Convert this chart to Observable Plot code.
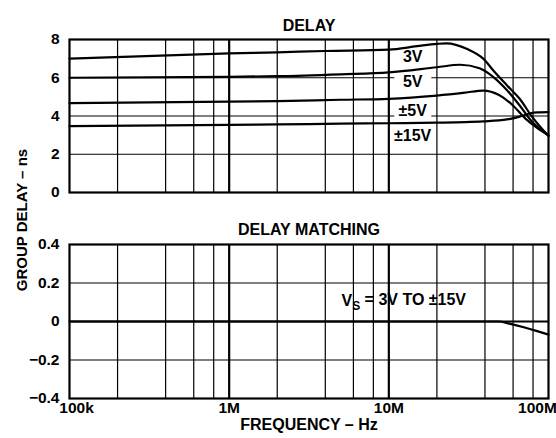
<!DOCTYPE html>
<html><head><meta charset="utf-8">
<script src="https://cdn.jsdelivr.net/npm/d3@7"></script>
<script src="https://cdn.jsdelivr.net/npm/@observablehq/plot@0.6"></script>
<style>
body{margin:0;background:#fff;}
#wrap{position:relative;width:556px;height:438px;font-family:"Liberation Sans",Arial,sans-serif;font-weight:bold;color:#000;}
#wrap > div.p{position:absolute;left:0;}
#ytitle{position:absolute;left:21px;top:220px;transform:translate(-50%,-50%) rotate(-90deg);white-space:nowrap;font-size:15px;font-weight:bold;}
</style>
</head><body>
<div id="wrap"><div class="p" id="p1" style="top:0"></div><div class="p" id="p2" style="top:200px"></div><div id="ytitle">GROUP DELAY – ns</div></div>
<script>
// ---- data ----
const f3V = [1e5, 1e6, 2e6, 4e6, 1e7, 1.5e7, 2e7, 2.3e7, 3.1e7, 3.9e7, 4.6e7, 5.5e7, 6.6e7, 7.9e7, 1e8];
const d3V = [7.0, 7.27, 7.33, 7.4, 7.47, 7.65, 7.77, 7.8, 7.5, 7.0, 6.3, 5.6, 4.9, 3.95, 2.95];
const f5V = [1e5, 1e6, 2e6, 5e6, 1e7, 2e7, 2.8e7, 3.7e7, 4.5e7, 5.5e7, 6.6e7, 7.9e7, 1e8];
const d5V = [6.0, 6.05, 6.08, 6.18, 6.28, 6.55, 6.68, 6.5, 6.05, 5.35, 4.55, 3.7, 3.0];
const fPM5 = [1e5, 1e6, 2e6, 5e6, 1e7, 2e7, 3e7, 3.9e7, 4.9e7, 5.9e7, 7.2e7, 8.4e7, 1e8];
const dPM5 = [4.67, 4.75, 4.78, 4.85, 4.9, 5.07, 5.22, 5.33, 5.1, 4.6, 3.85, 3.4, 2.98];
const fPM15 = [1e5, 1e6, 2e6, 5e6, 1e7, 2e7, 3e7, 3.9e7, 5.5e7, 6.6e7, 7.6e7, 8.5e7, 1e8];
const dPM15 = [3.47, 3.54, 3.56, 3.6, 3.62, 3.65, 3.68, 3.72, 3.82, 3.97, 4.13, 4.19, 4.2];
const fMatch = [1e5, 1e7, 4.9e7, 5.6e7, 7e7, 8.5e7, 1e8];
const dMatch = [0, 0, 0, -0.01, -0.03, -0.05, -0.068];

const seriesNames = ["3V", "5V", "±5V", "±15V"];
const labelFreq = [1.41e7, 1.41e7, 1.41e7, 1.41e7];
const labelDelay = [7.07, 5.77, 4.29, 2.98];

const xTickVals = [1e5, 1e6, 1e7, 1e8];
const xTickLabels = ["100k", "1M", "10M", "100M"];
const yTicksTop = [0, 2, 4, 6, 8];
const yTicksBot = [-0.4, -0.2, 0, 0.2, 0.4];
const minorGrid = [2e5,4e5,6e5,8e5, 2e6,4e6,6e6,8e6, 2e7,4e7,6e7,8e7];
const majorGrid = [1e6, 1e7];

const matchLabel = "VS = 3V TO ±15V";

// ---- build ----
const font = {fontFamily: '"Liberation Sans", Arial, sans-serif', fontSize: "16px", fontWeight: "bold", color: "#000", background: "#fff", overflow: "visible"};
const zip = (fs, ds) => fs.map((f, i) => ({f, d: ds[i]}));
const series = [zip(f3V, d3V), zip(f5V, d5V), zip(fPM5, dPM5), zip(fPM15, dPM15)];
const labels = seriesNames.map((n, i) => ({n, f: labelFreq[i], d: labelDelay[i]}));
const xScale = {type: "log", domain: [1e5, 1e8]};
const fmtBot = d => d === 0 ? "0" : d.toFixed(1).replace("-", "\u2212");
const TS = 15.5, LS = 16;

const top1 = Plot.plot({
  width: 556, height: 200,
  marginLeft: 69, marginRight: 8, marginTop: 39, marginBottom: 8,
  style: font,
  x: xScale,
  y: {domain: [0, 8]},
  marks: [
    Plot.ruleX(minorGrid, {stroke: "#000", strokeWidth: 1.2}),
    Plot.ruleX(majorGrid, {stroke: "#000", strokeWidth: 2.2}),
    Plot.ruleY([2, 4, 6], {stroke: "#000", strokeWidth: 1.2}),
    Plot.text(labels, {x: "f", y: "d", text: "n", fill: "#000", fontSize: LS, fontWeight: "bold"}),
    ...series.map(s => Plot.line(s, {x: "f", y: "d", stroke: "#000", strokeWidth: 2.2, curve: "monotone-x"})),
    Plot.frame({stroke: "#000", strokeWidth: 2.2}),
    Plot.axisX({ticks: [], label: null, tickSize: 0}),
    Plot.axisY({ticks: yTicksTop, tickSize: 0, tickPadding: 10, label: null, fontSize: TS, fontWeight: "bold"}),
    Plot.text(["DELAY"], {frameAnchor: "top", dy: -19.5, fontSize: LS, fontWeight: "bold"})
  ]
});
document.getElementById("p1").appendChild(top1);

const bot = Plot.plot({
  width: 556, height: 238,
  marginLeft: 69, marginRight: 8, marginTop: 44, marginBottom: 40,
  style: font,
  x: xScale,
  y: {domain: [-0.4, 0.4]},
  marks: [
    Plot.ruleX(minorGrid, {stroke: "#000", strokeWidth: 1.2}),
    Plot.ruleX(majorGrid, {stroke: "#000", strokeWidth: 2.2}),
    Plot.ruleY([-0.2, 0.2], {stroke: "#000", strokeWidth: 1.2}),
    Plot.ruleY([0], {stroke: "#000", strokeWidth: 2.2}),
    Plot.line(zip(fMatch, dMatch), {x: "f", y: "d", stroke: "#000", strokeWidth: 2.2, curve: "monotone-x"}),
    Plot.text([matchLabel], {x: 1.24e7, y: 0.105, fontSize: LS, fontWeight: "bold", fill: "#000"}),
    Plot.frame({stroke: "#000", strokeWidth: 2.2}),
    Plot.axisY({ticks: yTicksBot, tickFormat: fmtBot, tickSize: 0, tickPadding: 10, label: null, fontSize: TS, fontWeight: "bold"}),
    Plot.axisX({ticks: [], label: null, tickSize: 0}),
    Plot.text(xTickVals.slice(1, 3), {x: d => d, frameAnchor: "bottom", dy: 14, text: (d, i) => xTickLabels[i + 1], fontSize: TS, fontWeight: "bold"}),
    Plot.text([xTickVals[0]], {x: d => d, frameAnchor: "bottom", dy: 14, dx: 7, text: () => xTickLabels[0], fontSize: TS, fontWeight: "bold"}),
    Plot.text([xTickVals[3]], {x: d => d, frameAnchor: "bottom", dy: 14, dx: -11, text: () => xTickLabels[3], fontSize: TS, fontWeight: "bold"}),
    Plot.text(["FREQUENCY – Hz"], {frameAnchor: "bottom", dy: 31, fontSize: LS, fontWeight: "bold"}),
    Plot.text(["DELAY MATCHING"], {frameAnchor: "top", dy: -21, fontSize: LS, fontWeight: "bold"})
  ]
});
document.getElementById("p2").appendChild(bot);

// white boxes behind the series labels (break the gridlines like the original)
d3.select(top1).selectAll("text").filter(function() { return seriesNames.includes(this.textContent); })
  .each(function() {
    const b = this.getBBox();
    const cx = b.x + b.width / 2, w = 37;
    d3.select(this.parentNode).insert("rect", () => this)
      .attr("x", cx - w / 2).attr("y", b.y + 1).attr("width", w).attr("height", b.height - 2)
      .attr("fill", "#fff").attr("transform", this.getAttribute("transform"));
  });

// subscript S in the matching label
d3.select(bot).selectAll("text").filter(function() { return this.textContent === matchLabel; })
  .each(function() {
    const t = d3.select(this);
    t.text(null);
    t.append("tspan").text("V");
    t.append("tspan").attr("font-size", 12).attr("dy", "0.3em").text("S");
    t.append("tspan").attr("dy", "-0.3em").text(" = 3V TO ±15V");
  });
</script>
</body></html>
